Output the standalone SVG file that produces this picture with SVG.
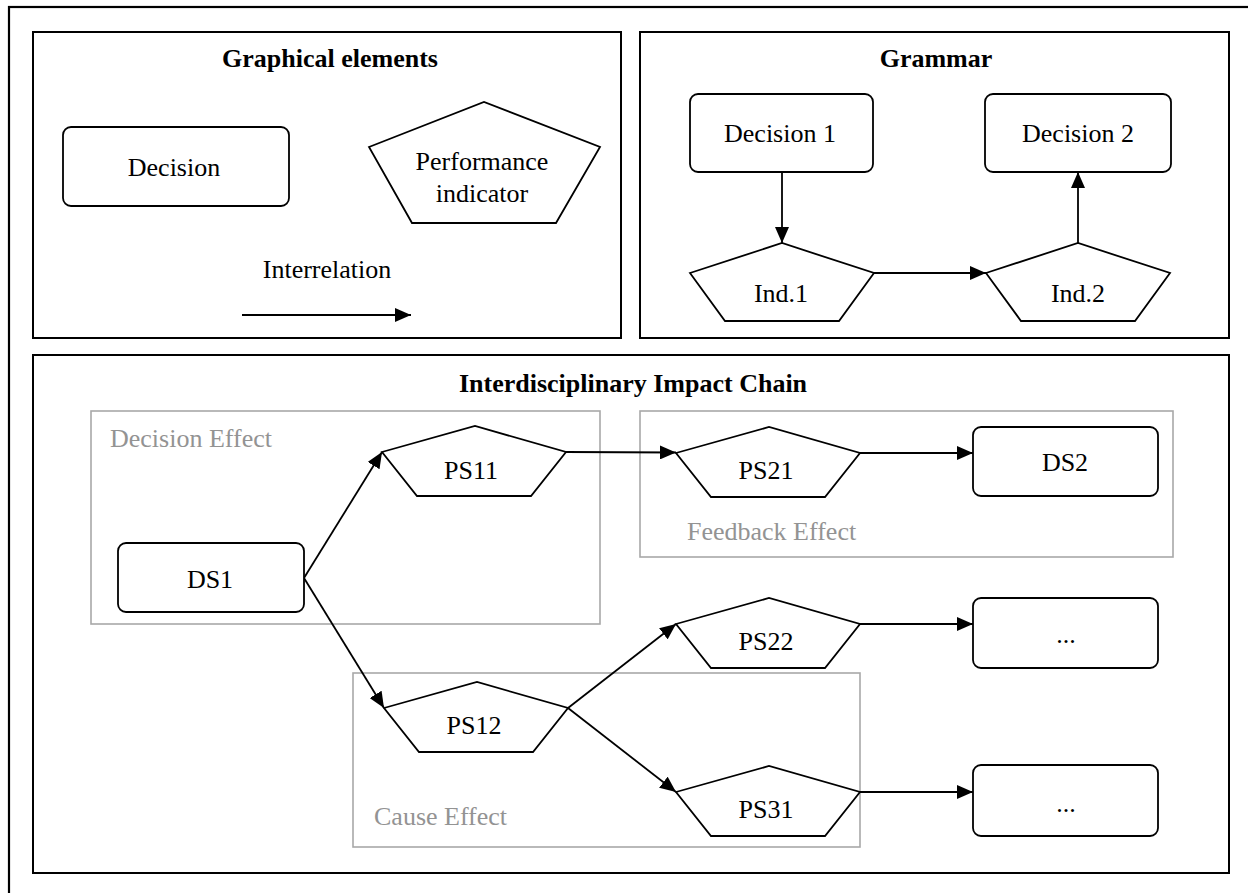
<svg xmlns="http://www.w3.org/2000/svg" width="1248" height="893" viewBox="0 0 1248 893">
<style>
text{font-family:"Liberation Serif","Times New Roman",serif;font-size:26px;fill:#000}
.t{font-weight:bold;text-anchor:middle}
.c{text-anchor:middle}
.g{fill:#939393}
.frame{fill:none;stroke:#000;stroke-width:2.2}
.panel{fill:#fff;stroke:#000;stroke-width:2}
.grp{fill:none;stroke:#a8a8a8;stroke-width:1.6}
.node{fill:#fff;stroke:#000;stroke-width:1.8}
.edge{fill:none;stroke:#000;stroke-width:1.8;marker-end:url(#ah)}
</style>
<defs>
<marker id="ah" markerUnits="userSpaceOnUse" markerWidth="16" markerHeight="14" refX="16" refY="7" orient="auto">
<path d="M0,0 L16,7 L0,14 Z" fill="#000"/>
</marker>
<polygon id="ps" points="0,0 93,-26 184,0 149,44 35,44"/>
<polygon id="ind" points="0,0 92,-30 184,0 149,48 35,48"/>
</defs>
<rect width="1248" height="893" fill="#fff"/>
<rect class="frame" x="9" y="7" width="1260" height="900"/>

<g id="panel-graphical">
<rect class="panel" x="33" y="32" width="588" height="306"/>
<text class="t" x="330" y="67">Graphical elements</text>
</g>
<g id="panel-grammar">
<rect class="panel" x="640" y="32" width="589" height="306"/>
<text class="t" x="936" y="67">Grammar</text>
</g>
<g id="panel-chain">
<rect class="panel" x="33" y="355" width="1196" height="518"/>
<text class="t" x="633" y="392">Interdisciplinary Impact Chain</text>
</g>

<g id="group-decision-effect">
<rect class="grp" x="91" y="411" width="509" height="213"/>
<text class="g" x="110" y="447">Decision Effect</text>
</g>
<g id="group-feedback-effect">
<rect class="grp" x="640" y="411" width="533" height="146"/>
<text class="g" x="687" y="540">Feedback Effect</text>
</g>
<g id="group-cause-effect">
<rect class="grp" x="353" y="673" width="507" height="174"/>
<text class="g" x="374" y="825">Cause Effect</text>
</g>

<g id="connectors">
<line class="edge" x1="242" y1="315" x2="411" y2="315"/>
<line class="edge" x1="782" y1="172" x2="782" y2="243"/>
<line class="edge" x1="874" y1="273" x2="986" y2="273"/>
<line class="edge" x1="1078" y1="243" x2="1078" y2="172"/>
<line class="edge" x1="304" y1="578" x2="382" y2="452"/>
<line class="edge" x1="304" y1="578" x2="384" y2="708"/>
<line class="edge" x1="566" y1="452" x2="676" y2="452.5"/>
<line class="edge" x1="860" y1="453" x2="973" y2="453"/>
<line class="edge" x1="568" y1="708" x2="676" y2="624"/>
<line class="edge" x1="568" y1="708" x2="676" y2="792"/>
<line class="edge" x1="860" y1="624" x2="973" y2="624"/>
<line class="edge" x1="860" y1="792" x2="973" y2="792"/>
</g>

<g id="legend-decision">
<rect class="node" x="63" y="127" width="226" height="79" rx="8"/>
<text class="c" x="174" y="176">Decision</text>
</g>
<g id="legend-indicator">
<polygon class="node" points="369,147 484,102 600,147 556,223 412,223"/>
<text class="c" x="482" y="170">Performance</text>
<text class="c" x="482" y="202">indicator</text>
</g>
<g id="legend-interrelation">
<text class="c" x="327" y="278">Interrelation</text>
</g>

<g id="decision1">
<rect class="node" x="690" y="94" width="183" height="78" rx="8"/>
<text class="c" x="780" y="142">Decision 1</text>
</g>
<g id="decision2">
<rect class="node" x="985" y="94" width="186" height="78" rx="8"/>
<text class="c" x="1078" y="142">Decision 2</text>
</g>
<g id="ind1">
<use href="#ind" class="node" x="690" y="273"/>
<text class="c" x="781" y="302">Ind.1</text>
</g>
<g id="ind2">
<use href="#ind" class="node" x="986" y="273"/>
<text class="c" x="1078" y="302">Ind.2</text>
</g>

<g id="ds1">
<rect class="node" x="118" y="543" width="186" height="69" rx="8"/>
<text class="c" x="210" y="588">DS1</text>
</g>
<g id="ps11">
<use href="#ps" class="node" x="382" y="452"/>
<text class="c" x="471" y="479">PS11</text>
</g>
<g id="ps21">
<use href="#ps" class="node" x="676" y="453"/>
<text class="c" x="766" y="479">PS21</text>
</g>
<g id="ds2">
<rect class="node" x="973" y="427" width="185" height="69" rx="8"/>
<text class="c" x="1065" y="471">DS2</text>
</g>
<g id="ps12">
<use href="#ps" class="node" x="384" y="708"/>
<text class="c" x="474" y="734">PS12</text>
</g>
<g id="ps22">
<use href="#ps" class="node" x="676" y="624"/>
<text class="c" x="766" y="650">PS22</text>
</g>
<g id="ps31">
<use href="#ps" class="node" x="676" y="792"/>
<text class="c" x="766" y="818">PS31</text>
</g>
<g id="out1">
<rect class="node" x="973" y="598" width="185" height="70" rx="8"/>
<text class="c" x="1066" y="643">...</text>
</g>
<g id="out2">
<rect class="node" x="973" y="765" width="185" height="71" rx="8"/>
<text class="c" x="1066" y="812">...</text>
</g>
</svg>
